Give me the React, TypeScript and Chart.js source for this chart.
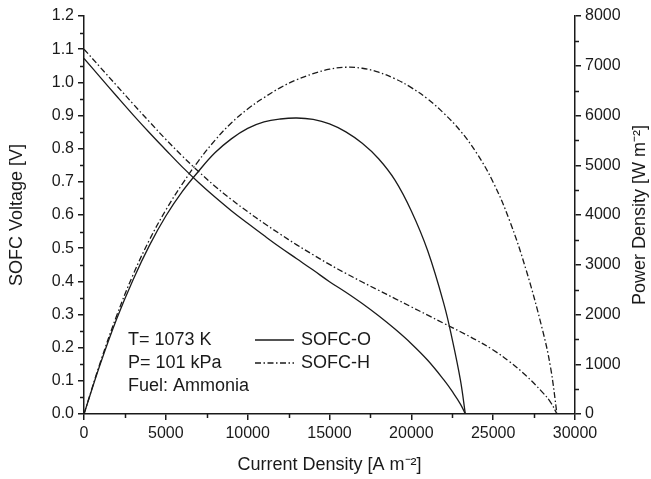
import React, { useEffect, useRef } from "react";
import { Chart, registerables } from "chart.js";

Chart.register(...registerables);

// SOFC-O (oxygen-ion conducting)
const currentO = [0, 1000, 2000, 3000, 4000, 5000, 6000, 7000, 8000, 9000, 10000, 11000, 12000, 13000, 14000, 15000, 16000, 17000, 18000, 19000, 20000, 21000, 22000, 22500, 23000, 23300];
const voltageO = [1.072, 1.015, 0.958, 0.902, 0.848, 0.796, 0.745, 0.698, 0.654, 0.613, 0.575, 0.538, 0.502, 0.468, 0.434, 0.399, 0.367, 0.333, 0.296, 0.256, 0.212, 0.162, 0.102, 0.068, 0.03, 0];
const powerO = [0, 1010, 1915, 2700, 3390, 3980, 4470, 4880, 5250, 5530, 5740, 5870, 5930, 5950, 5920, 5830, 5670, 5440, 5130, 4700, 4080, 3280, 2200, 1500, 680, 0];

// SOFC-H (proton conducting)
const currentH = [0, 1000, 2000, 3000, 4000, 5000, 6000, 7000, 8000, 9000, 10000, 11000, 12000, 13000, 14000, 15000, 16000, 17000, 18000, 19000, 20000, 21000, 22000, 23000, 24000, 25000, 26000, 27000, 28000, 28500, 28900];
const voltageH = [1.1, 1.045, 0.99, 0.935, 0.881, 0.828, 0.778, 0.731, 0.687, 0.647, 0.61, 0.575, 0.542, 0.51, 0.48, 0.451, 0.424, 0.398, 0.373, 0.348, 0.323, 0.298, 0.273, 0.248, 0.222, 0.193, 0.158, 0.116, 0.066, 0.036, 0];
const powerH = [0, 1040, 1980, 2800, 3500, 4100, 4620, 5090, 5500, 5850, 6130, 6360, 6560, 6720, 6840, 6930, 6970, 6950, 6870, 6740, 6560, 6330, 6040, 5690, 5240, 4660, 3890, 2910, 1710, 950, 0];

const seriesNames = ["SOFC-O", "SOFC-H"];
const infoLines = ["T= 1073 K", "P= 101 kPa", "Fuel: Ammonia"];
const xTitle = "Current Density [A m⁻²]";
const yTitle = "SOFC Voltage [V]";
const y1Title = "Power Density [W m⁻²]";

const FONT = "Arial, 'Liberation Sans', sans-serif";
const INK = "#1a1a1a";
const DASH_DOT = [6, 2.5, 1.5, 2.5];

const zip = (xs: number[], ys: number[]) => xs.map((x, i) => ({ x, y: ys[i] }));

const decorPlugin = {
  id: "decor",
  afterDraw(chart: any) {
    const { ctx, chartArea, scales } = chart;
    const xs = scales.x, ys = scales.y, y1 = scales.y1;
    ctx.save();
    ctx.strokeStyle = INK;
    ctx.lineWidth = 1.5;
    // minor ticks
    ctx.beginPath();
    for (let v = 2500; v < 30000; v += 5000) {
      const px = Math.round(xs.getPixelForValue(v)) + 0.5;
      ctx.moveTo(px, chartArea.bottom);
      ctx.lineTo(px, chartArea.bottom + 4);
    }
    for (let v = 0.05; v < 1.2; v += 0.1) {
      const py = Math.round(ys.getPixelForValue(v)) + 0.5;
      ctx.moveTo(chartArea.left, py);
      ctx.lineTo(chartArea.left - 4, py);
    }
    for (let v = 500; v < 8000; v += 1000) {
      const py = Math.round(y1.getPixelForValue(v)) + 0.5;
      ctx.moveTo(chartArea.right, py);
      ctx.lineTo(chartArea.right + 4, py);
    }
    ctx.stroke();

    // titles
    ctx.fillStyle = INK;
    ctx.font = `18px ${FONT}`;
    ctx.textAlign = "center";
    ctx.textBaseline = "middle";
    ctx.fillText(xTitle, (chartArea.left + chartArea.right) / 2, 465);
    ctx.save();
    ctx.translate(17, (chartArea.top + chartArea.bottom) / 2);
    ctx.rotate(-Math.PI / 2);
    ctx.fillText(yTitle, 0, 0);
    ctx.restore();
    ctx.save();
    ctx.translate(640, (chartArea.top + chartArea.bottom) / 2);
    ctx.rotate(-Math.PI / 2);
    ctx.fillText(y1Title, 0, 0);
    ctx.restore();

    // info text
    ctx.font = `18px ${FONT}`;
    ctx.textAlign = "left";
    infoLines.forEach((t, i) => ctx.fillText(t, 128, 340 + i * 23));

    // legend
    const legY = [340, 363];
    ctx.lineWidth = 1.3;
    legY.forEach((y, i) => {
      ctx.setLineDash(i === 0 ? [] : DASH_DOT);
      ctx.beginPath();
      ctx.moveTo(255, y);
      ctx.lineTo(294, y);
      ctx.stroke();
      ctx.setLineDash([]);
      ctx.fillText(seriesNames[i], 301, y);
    });
    ctx.restore();
  },
};

export default function App() {
  const ref = useRef<HTMLCanvasElement>(null);
  useEffect(() => {
    if (!ref.current) return;
    const common = {
      borderColor: INK,
      borderWidth: 1.3,
      pointRadius: 0,
      fill: false,
      tension: 0.4,
    };
    const tickFont = { family: FONT, size: 16 };
    const gridOpts = { drawOnChartArea: false, tickLength: 6, color: INK, tickWidth: 1.5, lineWidth: 1.5 };
    const chart = new Chart(ref.current, {
      type: "line",
      data: {
        datasets: [
          { ...common, label: "SOFC-O V", data: zip(currentO, voltageO), yAxisID: "y" },
          { ...common, label: "SOFC-H V", data: zip(currentH, voltageH), yAxisID: "y", borderDash: DASH_DOT },
          { ...common, label: "SOFC-O P", data: zip(currentO, powerO), yAxisID: "y1" },
          { ...common, label: "SOFC-H P", data: zip(currentH, powerH), yAxisID: "y1", borderDash: DASH_DOT },
        ],
      },
      options: {
        animation: false,
        responsive: false,
        layout: { padding: { top: 16, left: 0, right: 0, bottom: 0 } },
        plugins: { legend: { display: false }, tooltip: { enabled: false } },
        scales: {
          x: {
            type: "linear",
            min: 0,
            max: 30000,
            ticks: { stepSize: 5000, font: tickFont, color: INK, padding: 4, maxRotation: 0, callback: (v: any) => String(v) },
            grid: gridOpts,
            border: { color: INK, width: 1.5 },
            afterFit: (s: any) => { s.height = 65; },
          },
          y: {
            type: "linear",
            position: "left",
            min: 0,
            max: 1.2,
            ticks: { stepSize: 0.1, font: tickFont, color: INK, padding: 4, callback: (v: any) => Number(v).toFixed(1) },
            grid: gridOpts,
            border: { color: INK, width: 1.5 },
            afterFit: (s: any) => { s.width = 84; },
          },
          y1: {
            type: "linear",
            position: "right",
            min: 0,
            max: 8000,
            ticks: { stepSize: 1000, font: tickFont, color: INK, padding: 4, callback: (v: any) => String(v) },
            grid: gridOpts,
            border: { color: INK, width: 1.5 },
            afterFit: (s: any) => { s.width = 76; },
          },
        },
      },
      plugins: [decorPlugin],
    });
    return () => chart.destroy();
  }, []);
  return (
    <div style={{ position: "fixed", left: 0, top: 0, width: 651, height: 479, background: "#fff" }}>
      <canvas ref={ref} width={651} height={479} />
    </div>
  );
}
